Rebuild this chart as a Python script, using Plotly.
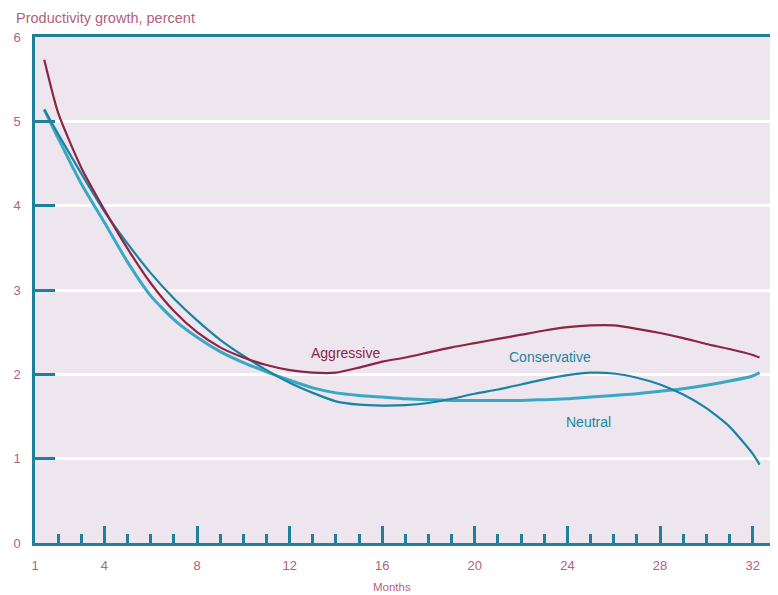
import plotly.graph_objects as go

# Data (months, productivity growth in percent)
months = [1.4, 2, 3, 4, 5, 6, 7, 8, 9, 10, 11, 12, 13, 14, 15, 16, 17, 18, 19, 20,
          21, 22, 23, 24, 25, 26, 27, 28, 29, 30, 31, 32, 32.3]
aggressive = [5.73, 5.10, 4.45, 3.95, 3.49, 3.08, 2.75, 2.50, 2.32, 2.20, 2.11, 2.05, 2.02, 2.02,
              2.08, 2.15, 2.20, 2.26, 2.32, 2.37, 2.42, 2.47, 2.52, 2.56, 2.58, 2.58, 2.54, 2.49,
              2.43, 2.36, 2.30, 2.23, 2.20]
conservative = [5.14, 4.85, 4.38, 3.93, 3.55, 3.20, 2.90, 2.64, 2.41, 2.22, 2.05, 1.90, 1.78, 1.68,
                1.64, 1.63, 1.635, 1.66, 1.71, 1.77, 1.82, 1.88, 1.94, 1.99, 2.02, 2.01, 1.96, 1.88,
                1.76, 1.60, 1.38, 1.06, 0.93]
neutral = [5.14, 4.80, 4.26, 3.80, 3.33, 2.93, 2.65, 2.44, 2.27, 2.14, 2.03, 1.93, 1.84, 1.78,
           1.75, 1.73, 1.71, 1.70, 1.69, 1.69, 1.69, 1.69, 1.70, 1.71, 1.73, 1.75, 1.77, 1.80,
           1.83, 1.87, 1.92, 1.98, 2.02]

x_ticks = [1, 4, 8, 12, 16, 20, 24, 28, 32]
y_ticks = [0, 1, 2, 3, 4, 5, 6]

MAROON = "#8c2446"
TEAL = "#1a84a0"
TEAL2 = "#3aa8c2"
FRAME = "#1f8199"
LABEL = "#b5607e"
FONT = "Liberation Sans, Arial, sans-serif"

fig = go.Figure()
fig.add_trace(go.Scatter(x=months, y=neutral, mode="lines", name="Neutral",
                         line=dict(color=TEAL2, width=3, shape="spline", smoothing=0.6)))
fig.add_trace(go.Scatter(x=months, y=conservative, mode="lines", name="Conservative",
                         line=dict(color=TEAL, width=2.2, shape="spline", smoothing=0.6)))
fig.add_trace(go.Scatter(x=months, y=aggressive, mode="lines", name="Aggressive",
                         line=dict(color=MAROON, width=2.2, shape="spline", smoothing=0.6)))

font_tick = dict(family=FONT, size=13, color=LABEL)

fig.update_layout(
    width=770, height=587,
    margin=dict(l=25, r=5, t=29, b=52),
    paper_bgcolor="white",
    plot_bgcolor="#eee6ee",
    showlegend=False,
    xaxis=dict(range=[1, 32.75], tickvals=x_ticks, ticktext=[str(v) for v in x_ticks],
               ticks="inside", ticklen=17, tickwidth=2.5, tickcolor=FRAME,
               minor=dict(dtick=1, tick0=1, ticks="inside", ticklen=9, tickwidth=2.5,
                          tickcolor=FRAME, showgrid=False),
               showgrid=False, zeroline=False, showline=True, linecolor=FRAME, linewidth=2.5,
               mirror=True, tickfont=font_tick, ticklabelstandoff=9),
    yaxis=dict(range=[0, 6], tickvals=y_ticks, ticks="inside", ticklen=20, tickwidth=3,
               tickcolor=FRAME, showgrid=True, gridcolor="white", gridwidth=3,
               zeroline=False, showline=True, linecolor=FRAME, linewidth=2.5, mirror=True,
               tickfont=font_tick, ticklabelstandoff=9),
    annotations=[
        dict(text="Productivity growth, percent", xref="paper", yref="paper",
             x=-0.0284, y=1.0375, xanchor="left", yanchor="middle", showarrow=False,
             font=dict(family=FONT, size=14.5, color=LABEL)),
        dict(text="Months", xref="x", yref="paper", x=16.4, y=-0.087,
             xanchor="center", yanchor="middle", showarrow=False,
             font=dict(family=FONT, size=11.5, color=LABEL)),
        dict(text="Aggressive", x=14.42, y=2.25, showarrow=False,
             font=dict(family=FONT, size=14, color=MAROON)),
        dict(text="Conservative", x=23.25, y=2.21, showarrow=False,
             font=dict(family=FONT, size=14, color=TEAL)),
        dict(text="Neutral", x=24.9, y=1.44, showarrow=False,
             font=dict(family=FONT, size=14, color=TEAL)),
    ],
)

fig.write_html("out.html")
